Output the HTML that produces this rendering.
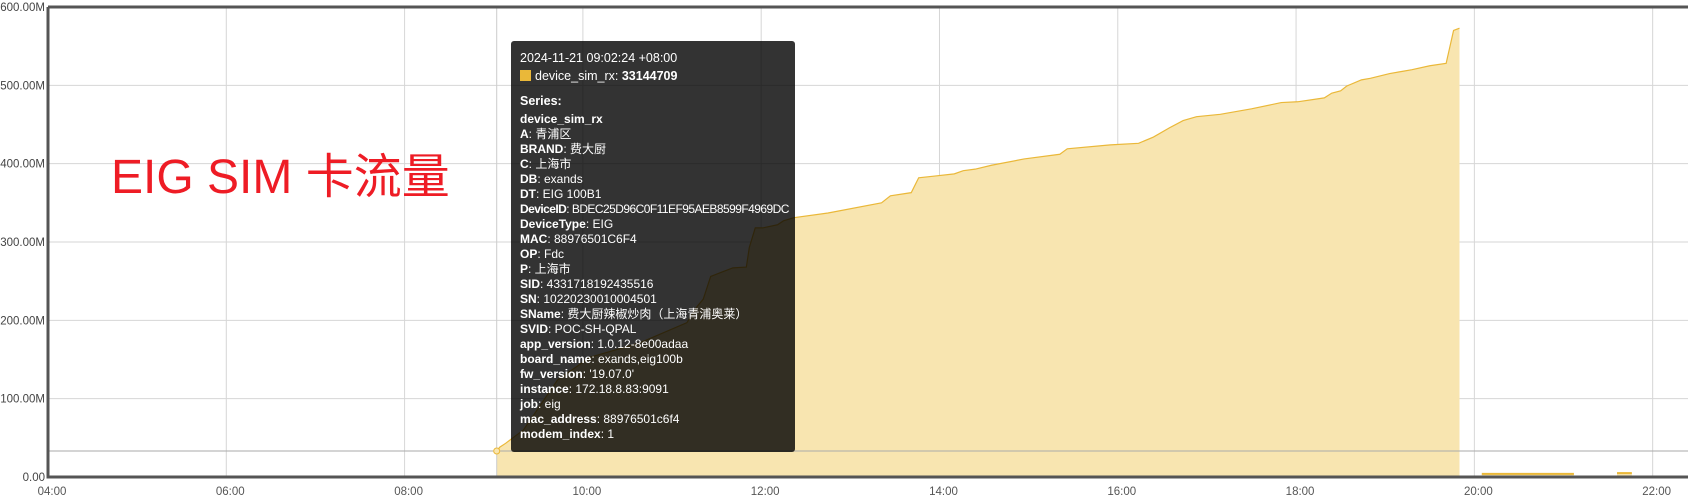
<!DOCTYPE html>
<html><head><meta charset="utf-8">
<style>
html,body{margin:0;padding:0;background:#fff;width:1689px;height:500px;overflow:hidden;font-family:"Liberation Sans","Noto Sans CJK SC",sans-serif;}
#chart{position:absolute;left:0;top:0;}
#title{position:absolute;left:111px;top:150px;font-size:48px;color:#ee1c25;white-space:nowrap;line-height:56px;font-family:"Liberation Sans","Noto Sans CJK SC",sans-serif;}
#tooltip{position:absolute;left:511px;top:41px;width:284px;height:411px;background:rgba(0,0,0,0.8);border-radius:3px;color:#fff;font-size:12px;box-sizing:border-box;padding:6px 6px 0 9px;overflow:hidden;font-family:"Liberation Sans","Noto Sans CJK SC",sans-serif;}
#tooltip .row{height:15px;line-height:15px;white-space:nowrap;}
#tooltip .big{font-size:12.5px;}
#tooltip .tight{letter-spacing:-0.55px;}
#tooltip b{font-weight:bold;}
.sw{display:inline-block;width:11px;height:11px;background:#eab839;vertical-align:-1px;margin-right:4px;}
</style></head><body>
<svg id="chart" width="1689" height="500" xmlns="http://www.w3.org/2000/svg"></svg>
<div id="title">EIG SIM 卡流量</div>
<div id="tooltip">
<div class="row big" style="margin-top:4px">2024-11-21 09:02:24 +08:00</div>
<div class="row big" style="margin-top:3px"><span class="sw"></span>device_sim_rx: <b>33144709</b></div>
<div class="row big" style="margin-top:10px;font-weight:bold">Series:</div>
<div class="row" style="margin-top:3px">
<b>device_sim_rx</b></div>
<div class="row"><b>A</b>: 青浦区</div>
<div class="row"><b>BRAND</b>: 费大厨</div>
<div class="row"><b>C</b>: 上海市</div>
<div class="row"><b>DB</b>: exands</div>
<div class="row"><b>DT</b>: EIG 100B1</div>
<div class="row tight"><b>DeviceID</b>: BDEC25D96C0F11EF95AEB8599F4969DC</div>
<div class="row"><b>DeviceType</b>: EIG</div>
<div class="row"><b>MAC</b>: 88976501C6F4</div>
<div class="row"><b>OP</b>: Fdc</div>
<div class="row"><b>P</b>: 上海市</div>
<div class="row"><b>SID</b>: 4331718192435516</div>
<div class="row"><b>SN</b>: 10220230010004501</div>
<div class="row"><b>SName</b>: 费大厨辣椒炒肉（上海青浦奥莱）</div>
<div class="row"><b>SVID</b>: POC-SH-QPAL</div>
<div class="row"><b>app_version</b>: 1.0.12-8e00adaa</div>
<div class="row"><b>board_name</b>: exands,eig100b</div>
<div class="row"><b>fw_version</b>: '19.07.0'</div>
<div class="row"><b>instance</b>: 172.18.8.83:9091</div>
<div class="row"><b>job</b>: eig</div>
<div class="row"><b>mac_address</b>: 88976501c6f4</div>
<div class="row"><b>modem_index</b>: 1</div>
</div>
<script>
const times = ["09:02","09:04","09:08","09:20","09:43","10:05","10:38","11:10","11:17","11:21","11:26","11:34","11:41","11:50","11:52","11:56","12:01","12:11","12:15","12:22","12:45","13:21","13:27","13:41","13:46","13:56","14:10","14:16","14:24","14:35","14:57","15:21","15:26","15:55","16:14","16:24","16:35","16:44","16:53","17:09","17:30","17:50","18:01","18:19","18:24","18:30","18:34","18:44","18:50","19:03","19:12","19:18","19:30","19:41","19:46","19:50"];
const values = [33.1,38,43,60,124,153,171,197,218,227,256,262,267,268,293,318,318,322,327,331,337,350,359,363,382,384,387,391,393,398,406,412,419,424,426,434,446,455,460,463,470,478,479,484,490,493,499,507,509,515,518,520,525,528,570,573];
const tail1Times = ["20:05","21:07"];
const tail1Values = [4,4];
const tail2Times = ["21:36","21:46"];
const tail2Values = [5,5];
const yTicks = [0,100,200,300,400,500,600];
const yTickLabels = ["0.00","100.00M","200.00M","300.00M","400.00M","500.00M","600.00M"];
const xTickLabels = ["04:00","06:00","08:00","10:00","12:00","14:00","16:00","18:00","20:00","22:00"];
const hoverTime = "09:02";
const hoverValue = 33.144709;

const L=48,R=1688,T=7,B=477,pxPerMin=1.4858;
function toMin(s){const p=s.split(":");return (+p[0])*60+(+p[1])-240;}
function xs(s){return L+toMin(s)*pxPerMin;}
function ys(v){return B-(v/600)*(B-T);}
const NS="http://www.w3.org/2000/svg";
const svg=document.getElementById("chart");
function mk(tag,attrs){const e=document.createElementNS(NS,tag);for(const k in attrs)e.setAttribute(k,attrs[k]);svg.appendChild(e);return e;}

yTicks.forEach((v,i)=>{
  const g=mk("line",{x1:L,x2:R,y1:ys(v),y2:ys(v),stroke:"#d6d6d6","stroke-width":1});
  
  
  const t=mk("text",{x:45,y:ys(v)+4,"text-anchor":"end","font-size":11.5,fill:"#444","font-family":"Liberation Sans, sans-serif"});
  t.textContent=yTickLabels[i];
  
  
});
xTickLabels.forEach(s=>{
  const x=xs(s);
  const g=mk("line",{x1:x,x2:x,y1:T,y2:B,stroke:"#d6d6d6","stroke-width":1});
  
  
  const t=mk("text",{x:x+4,y:495,"text-anchor":"middle","font-size":11.5,fill:"#555","font-family":"Liberation Sans, sans-serif"});
  t.textContent=s;
  
  
});

function areaPath(tt,vv){
  let d="M"+xs(tt[0])+","+B;
  tt.forEach((s,i)=>{d+=" L"+xs(s)+","+ys(vv[i]);});
  d+=" L"+xs(tt[tt.length-1])+","+B+" Z";return d;
}
function linePath(tt,vv){return tt.map((s,i)=>(i?"L":"M")+xs(s)+","+ys(vv[i])).join(" ");}
[[times,values],[tail1Times,tail1Values],[tail2Times,tail2Values]].forEach(([tt,vv],k)=>{
  const a=mk("path",{d:areaPath(tt,vv),fill:"#f8e5b0"});
  
  
  const l=mk("path",{d:linePath(tt,vv),fill:"none",stroke:"#eab839","stroke-width":k?2:1.2});
  
  
});

const hx=xs(hoverTime),hy=ys(hoverValue);
const ch=mk("line",{x1:L,x2:R,y1:hy,y2:hy,stroke:"#aaa","stroke-width":1});


const cv=mk("line",{x1:hx,x2:hx,y1:T,y2:B,stroke:"#ccc","stroke-width":1});


const dot=mk("circle",{cx:hx,cy:hy,r:3,fill:"#f8e5b0",stroke:"#eab839","stroke-width":1});



const ax=mk("path",{d:`M${L},${T} L${L},${B} L${R},${B} M${L},${T} L${R},${T}`,fill:"none",stroke:"#555","stroke-width":3});


</script>
</body></html>
